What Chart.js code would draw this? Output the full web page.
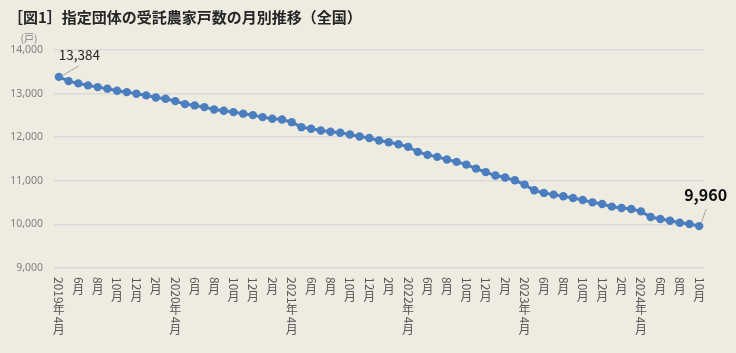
<!DOCTYPE html>
<html>
<head>
<meta charset="utf-8">
<script src="https://cdn.jsdelivr.net/npm/chart.js@4.4.1/dist/chart.umd.min.js"></script>
<style>
  html, body { margin: 0; padding: 0; background: #EEEBE1; }
  #wrap { width: 736px; height: 353px; position: relative; }
</style>
</head>
<body>
<div id="wrap"><canvas id="c" width="736" height="353"></canvas></div>
<script>
// ---- data ----
const months = [];
(function () {
  let y = 2019, m = 4;
  for (let i = 0; i < 67; i++) {
    months.push(m === 4 ? y + '年' + m + '月' : m + '月');
    m++; if (m > 12) { m = 1; y++; }
  }
})();
const households = [
  13384, 13287, 13234, 13189, 13149, 13113, 13067, 13034, 12998, 12959, 12910, 12883,
  12828, 12759, 12729, 12690, 12637, 12607, 12575, 12540, 12506, 12460, 12423, 12407,
  12345, 12230, 12193, 12154, 12124, 12101, 12062, 12016, 11980, 11924, 11885, 11839,
  11779, 11664, 11595, 11549, 11487, 11434, 11372, 11280, 11200, 11120, 11074, 11011,
  10913, 10782, 10722, 10683, 10644, 10607, 10561, 10506, 10469, 10407, 10377, 10354,
  10299, 10170, 10124, 10085, 10039, 10009, 9960
];
const yTicks = [9000, 10000, 11000, 12000, 13000, 14000];
const titleText = '［図1］指定団体の受託農家戸数の月別推移（全国）';
const unitText = '(戸)';

const CJK = '"Noto Sans CJK JP", "Noto Sans", sans-serif';

const overlay = {
  id: 'overlay',
  afterDraw(chart) {
    const ctx = chart.ctx;
    const xs = chart.scales.x;
    const area = chart.chartArea;
    ctx.save();
    // title
    ctx.fillStyle = '#262626';
    ctx.font = 'bold 15px ' + CJK;
    ctx.textAlign = 'left';
    ctx.textBaseline = 'middle';
    ctx.fillText(titleText, 8, 17);
    // unit
    ctx.fillStyle = '#7F7F7F';
    ctx.font = '10px ' + CJK;
    ctx.textAlign = 'center';
    ctx.fillText(unitText, 29, 38);

    // x labels: vertical text, digits rotated, CJK upright
    const fs = 12;
    ctx.fillStyle = '#595959';
    ctx.font = fs + 'px ' + CJK;
    for (let i = 0; i < months.length; i += 2) {
      const x = xs.getPixelForValue(i);
      let y = area.bottom + 9;
      const runs = months[i].match(/[0-9]+|[^0-9]/g);
      for (const r of runs) {
        if (/^[0-9]+$/.test(r)) {
          const w = ctx.measureText(r).width;
          ctx.save();
          ctx.translate(x, y);
          ctx.rotate(Math.PI / 2);
          ctx.textAlign = 'left';
          ctx.textBaseline = 'middle';
          ctx.fillText(r, 0, 0);
          ctx.restore();
          y += w + 1;
        } else {
          ctx.textAlign = 'center';
          ctx.textBaseline = 'top';
          ctx.fillText(r, x, y - 1);
          y += fs;
        }
      }
    }

    // data labels for first and last
    const meta = chart.getDatasetMeta(0);
    const p0 = meta.data[0];
    const pn = meta.data[meta.data.length - 1];
    ctx.strokeStyle = '#A6A6A6';
    ctx.lineWidth = 1;
    ctx.beginPath();
    ctx.moveTo(p0.x + 3, p0.y - 1);
    ctx.lineTo(p0.x + 20, p0.y - 11);
    ctx.stroke();
    ctx.beginPath();
    ctx.moveTo(pn.x + 2, pn.y - 3);
    ctx.lineTo(pn.x + 7, pn.y - 17);
    ctx.stroke();

    const fmt = v => v.toLocaleString('en-US');
    ctx.fillStyle = '#262626';
    ctx.font = '13.5px ' + CJK;
    ctx.textAlign = 'left';
    ctx.textBaseline = 'middle';
    ctx.fillText(fmt(households[0]), p0.x, p0.y - 22);
    ctx.fillStyle = '#0D0D0D';
    ctx.font = 'bold 16px ' + CJK;
    ctx.textAlign = 'center';
    ctx.fillText(fmt(households[households.length - 1]), pn.x + 6.5, pn.y - 31.5);
    ctx.restore();
  }
};

new Chart(document.getElementById('c'), {
  type: 'line',
  data: {
    labels: months,
    datasets: [{
      data: households,
      borderColor: '#4A7EBF',
      backgroundColor: '#4A7EBF',
      borderWidth: 3,
      pointRadius: 4.2,
      pointBorderWidth: 0,
      pointHoverRadius: 4.2,
      tension: 0
    }]
  },
  options: {
    responsive: false,
    devicePixelRatio: 1,
    animation: false,
    events: [],
    layout: { padding: { top: 50, left: 0, right: 32, bottom: 0 } },
    plugins: { legend: { display: false }, tooltip: { enabled: false }, title: { display: false } },
    scales: {
      x: {
        type: 'category',
        offset: true,
        grid: { display: false },
        border: { display: false },
        ticks: { display: false },
        afterFit(s) { s.height = 85; }
      },
      y: {
        min: 9000,
        max: 14000,
        afterBuildTicks(s) { s.ticks = yTicks.map(v => ({ value: v })); },
        afterFit(s) { s.width = 54; },
        grid: { color: '#D9D9D9', lineWidth: 1.5, drawTicks: false },
        border: { display: false },
        ticks: {
          padding: 11,
          color: '#7F7F7F',
          font: { family: '"Noto Sans", sans-serif', size: 10.5 },
          callback: v => Number(v).toLocaleString('en-US')
        }
      }
    }
  },
  plugins: [overlay]
});
</script>
</body>
</html>
